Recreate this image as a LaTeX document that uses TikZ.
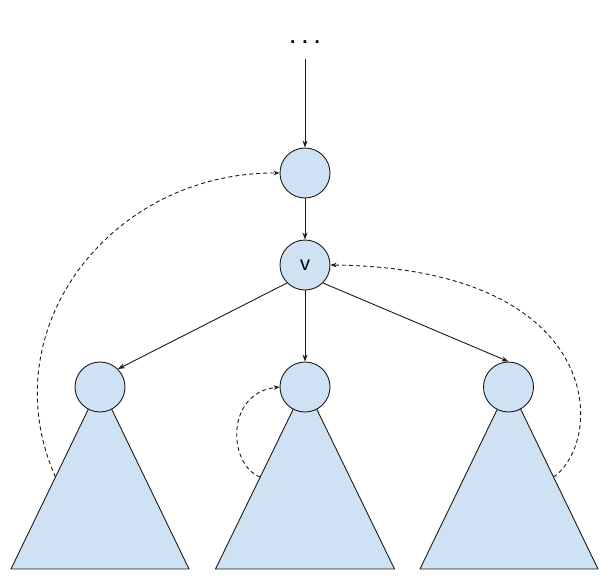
\documentclass[tikz,border=0pt]{standalone}
\usepackage{fontspec}
\setmainfont{Liberation Sans}
\usepackage{xcolor}
\usepackage{tikz}
\usetikzlibrary{arrows.meta, positioning, calc}
\definecolor{treefill}{HTML}{CFE2F3}
\definecolor{edge}{HTML}{1A1A1A}

\begin{document}
\begin{tikzpicture}[
  x=1pt, y=-1pt,
  vert/.style={circle, draw=edge, fill=treefill, line width=0.9pt,
               minimum size=50pt, inner sep=0pt,
               font=\fontsize{20}{20}\selectfont},
  subtree/.style={draw=edge, fill=treefill, line width=0.9pt, line join=round},
  arr/.style={-{Stealth[length=7pt, width=5pt]}, draw=edge, line width=0.9pt},
  back/.style={-{Stealth[length=6pt, width=4.5pt]}, draw=edge, line width=0.9pt,
               dashed, dash pattern=on 4pt off 3pt},
]
\useasboundingbox (0,0) rectangle (611,581);

% subtrees first, so the roots sit on top
\draw[subtree] (100,385) -- (11,569) -- (189,569) -- cycle;
\draw[subtree] (305,385) -- (215.5,569) -- (394.5,569) -- cycle;
\draw[subtree] (509,385) -- (420,569) -- (598,569) -- cycle;
\coordinate (lside) at ($(100,385)!0.5!(11,569)$);
\coordinate (mside) at ($(305,385)!0.5!(215.5,569)$);
\coordinate (rside) at ($(509,385)!0.5!(598,569)$);

\node[anchor=base, font=\fontsize{19}{19}\selectfont\bfseries, inner sep=0pt]
  (dots) at (305,43) {. . .};
\node[vert] (par) at (305,173) {};
\node[vert] (v)   at (305,265) {v};
\node[vert] (lc)  at (100,387) {};
\node[vert] (mc)  at (305,387) {};
\node[vert] (rc)  at (508.5,387) {};

\draw[arr, shorten <=16pt] (dots.south) -- (par);
\draw[arr] (par) -- (v);
\draw[arr] (v.south west) -- (lc.north east);
\draw[arr] (v) -- (mc);
\draw[arr] (v.south east) -- (rc.north);

% back edges
\draw[back] (lside) .. controls (-10,330) and (110,172) .. (par.west);
\draw[back] (mside) .. controls (228,465) and (225,393) .. (mc.west);
\draw[back] (rside) .. controls (606,440) and (606,268) .. (v.east);
\end{tikzpicture}
\end{document}
